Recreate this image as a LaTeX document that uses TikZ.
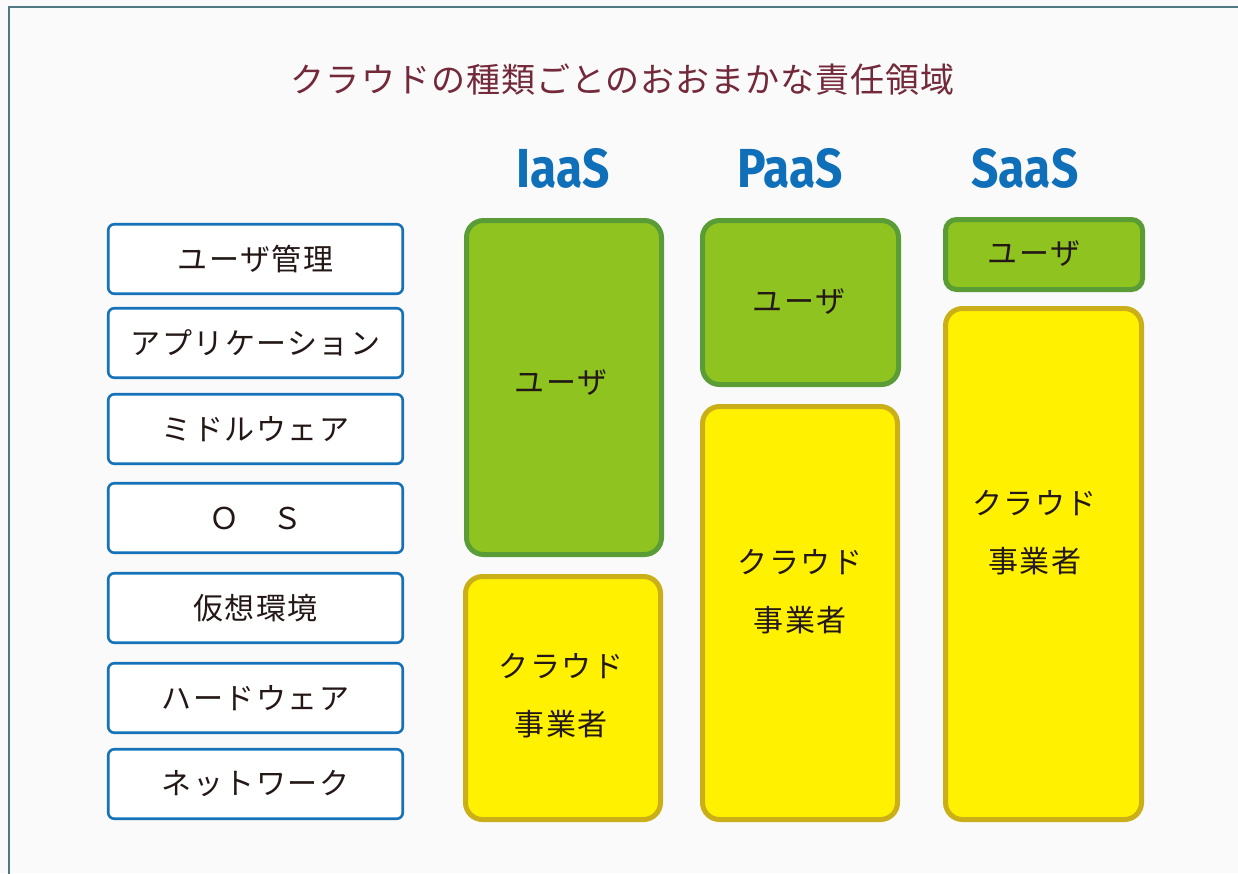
\documentclass[tikz,border=0pt]{standalone}
\usepackage{fontspec}
\newfontfamily\jp{Noto Sans CJK JP}
\newfontfamily\jpsp{Noto Sans CJK JP}[LetterSpace=5]
\newfontfamily\jptitle{Noto Sans CJK JP}[LetterSpace=3]
\newfontfamily\headfont{Fira Sans}[FakeStretch=0.87]
\definecolor{bgc}{HTML}{FAFAFA}
\definecolor{framec}{HTML}{527884}
\definecolor{titlec}{HTML}{73293A}
\definecolor{headblue}{HTML}{0F6FB8}
\definecolor{leftblue}{HTML}{1571B8}
\definecolor{txt}{HTML}{231815}
\definecolor{greenfill}{HTML}{8FC31F}
\definecolor{greenline}{HTML}{5A9C36}
\definecolor{yelfill}{HTML}{FFF100}
\definecolor{yelline}{HTML}{CBAF18}
\tikzset{
  layer/.style={draw=leftblue, fill=white, line width=2.6pt, rounded corners=6pt,
    minimum width=294.5pt, minimum height=69.5pt, inner sep=0pt,
    font=\jpsp\fontsize{30}{34}\selectfont, text=txt},
  userbox/.style={draw=greenline, fill=greenfill, line width=5pt, rounded corners=17pt, inner sep=0pt},
  cloudbox/.style={draw=yelline, fill=yelfill, line width=5pt, rounded corners=17pt, inner sep=0pt},
  lbl/.style={font=\jpsp\fontsize{30}{58}\selectfont, text=txt, align=center, inner sep=0pt},
  head/.style={font=\headfont\bfseries\fontsize{55}{60}\selectfont, text=headblue, anchor=base, inner sep=0pt}
}
\begin{document}
\begin{tikzpicture}[x=1pt,y=-1pt]
\fill[bgc] (0,0) rectangle (1238,873);
\useasboundingbox (0,0) rectangle (1238,873);
\draw[framec, line width=2pt] (8.5,900) -- (8.5,6.5) -- (1260,6.5);

\node[font=\jptitle\fontsize{34}{38}\selectfont, text=titlec, inner sep=0pt] (title) at (623,80) {クラウドの種類ごとのおおまかな責任領域};

\node[head] (iaas) at (563,187) {IaaS};
\node[head] (paas) at (790,187) {PaaS};
\node[head] (saas) at (1025,187) {SaaS};

\node[layer] (l1) at (255.5,259) {ユーザ管理};
\node[layer] (l2) at (255.5,343) {アプリケーション};
\node[layer] (l3) at (255.5,429) {ミドルウェア};
\node[layer] (l4) at (255.5,518) {Ｏ　Ｓ};
\node[layer] (l5) at (255.5,608) {仮想環境};
\node[layer] (l6) at (255.5,698) {ハードウェア};
\node[layer] (l7) at (255.5,784) {ネットワーク};

\node[userbox, minimum width=195pt, minimum height=334pt] (iu) at (564,387.5) {};
\node[cloudbox, minimum width=195pt, minimum height=243pt] (ic) at (563,698) {};
\node[userbox, minimum width=196pt, minimum height=164pt] (pu) at (800.5,302.5) {};
\node[cloudbox, minimum width=195pt, minimum height=413pt] (pc) at (800,613) {};
\node[userbox, rounded corners=11pt, minimum width=197pt, minimum height=70pt] (su) at (1044,254.5) {};
\node[cloudbox, minimum width=196pt, minimum height=511pt] (sc) at (1043.5,564) {};

\node[lbl] (iut) at (561,383) {ユーザ};
\node[lbl] (ict) at (561,696) {クラウド\\事業者};
\node[lbl] (put) at (799,302) {ユーザ};
\node[lbl] (pct) at (800,591.5) {クラウド\\事業者};
\node[lbl] (sut) at (1034,254) {ユーザ};
\node[lbl] (sct) at (1034.5,533) {クラウド\\事業者};
\end{tikzpicture}
\end{document}
